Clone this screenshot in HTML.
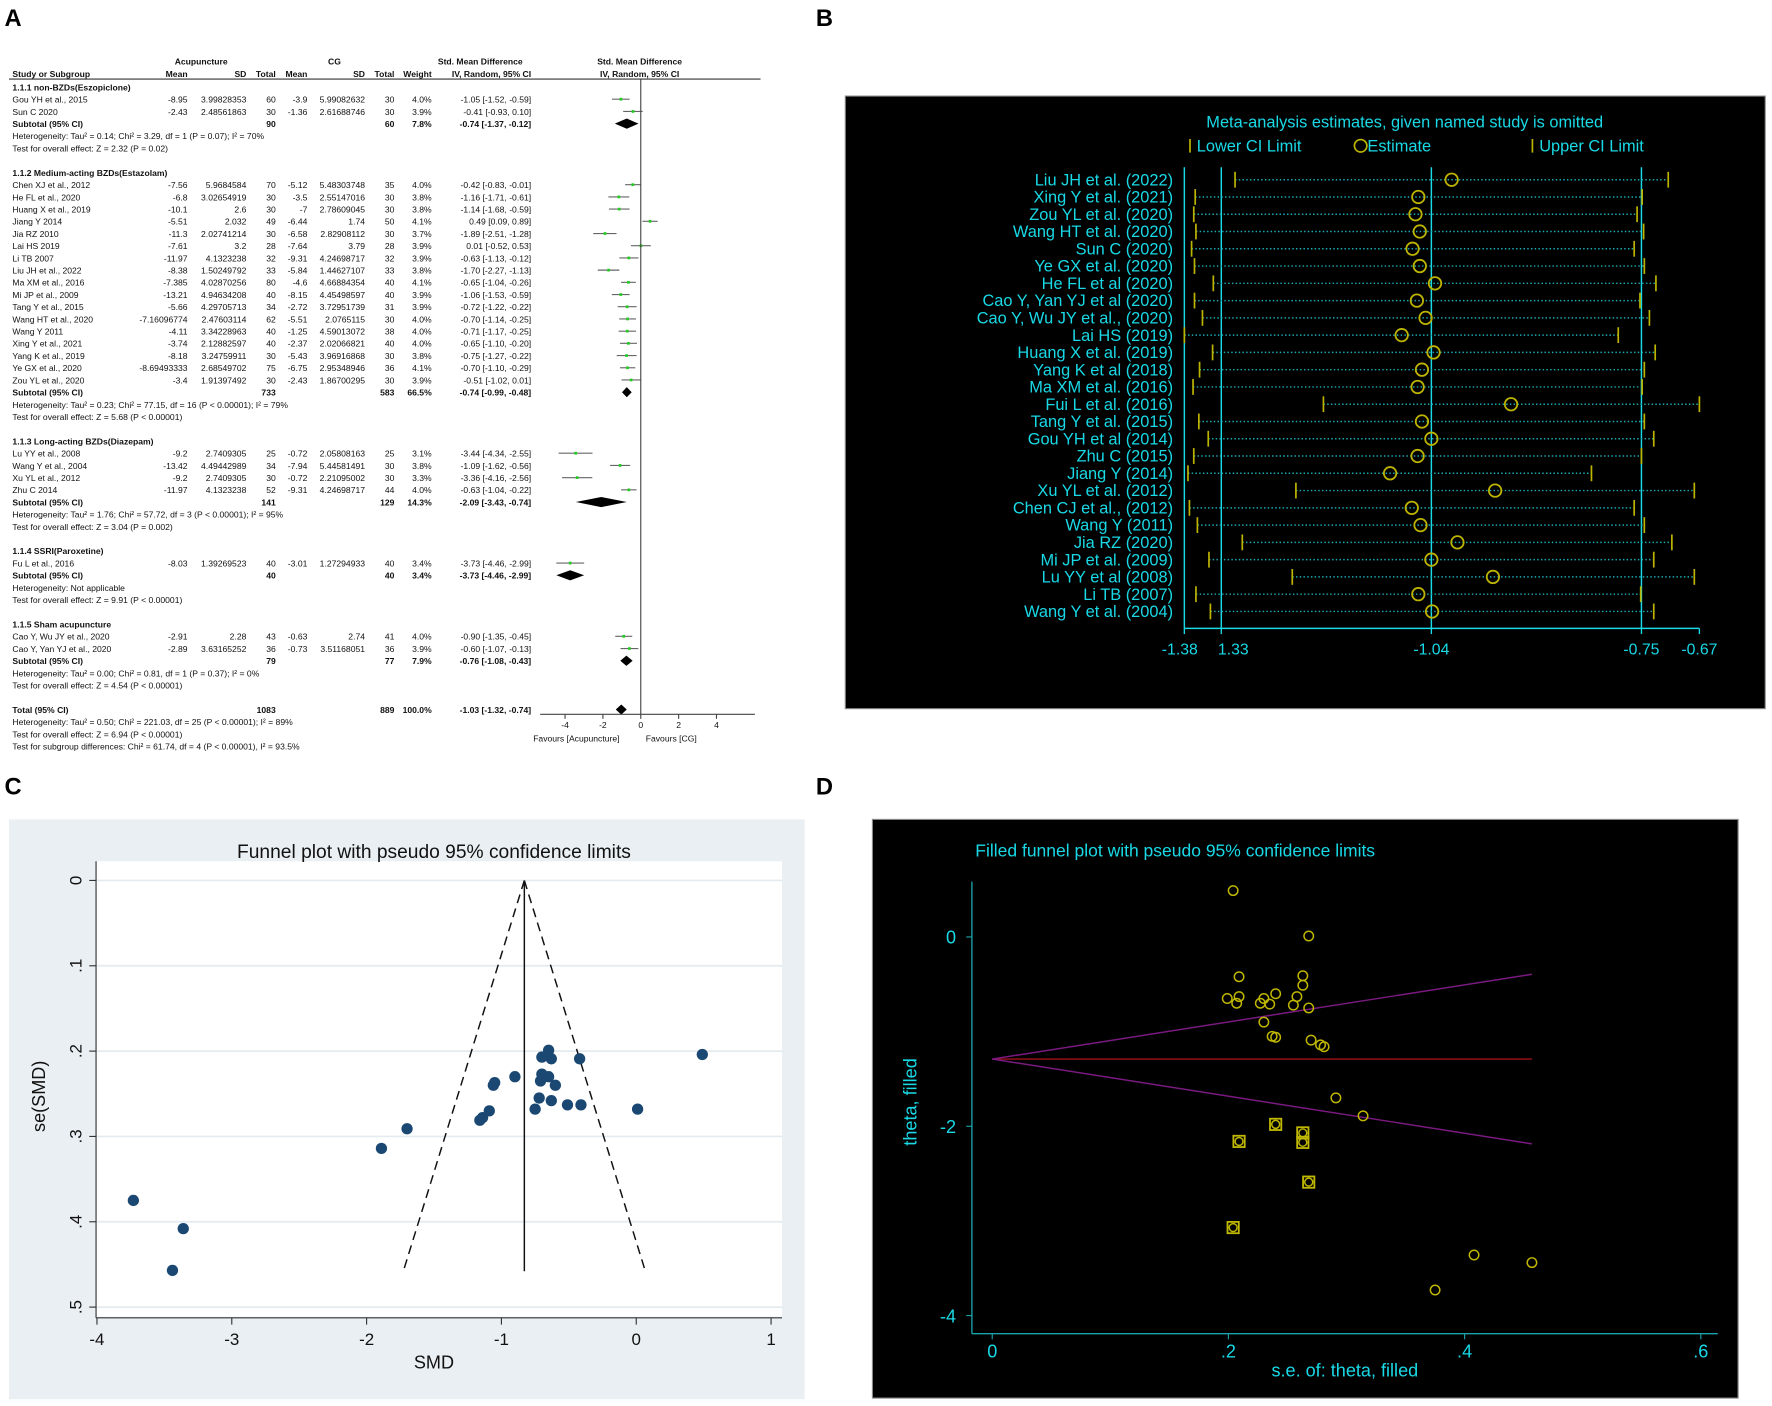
<!DOCTYPE html>
<html><head><meta charset="utf-8">
<style>
html,body{margin:0;padding:0;background:#fff;}
svg{display:block;}
text{font-family:"Liberation Sans",sans-serif;}
</style></head>
<body>
<svg id="fig" width="1772" height="1406" viewBox="0 0 1568 1244" preserveAspectRatio="none" xmlns="http://www.w3.org/2000/svg">
<rect x="0" y="0" width="1568" height="1244" fill="#fff"/>
<text x="4" y="23" font-size="21" font-weight="bold">A</text>
<text x="722" y="23" font-size="21" font-weight="bold">B</text>
<text x="4" y="703" font-size="21" font-weight="bold">C</text>
<text x="722" y="703" font-size="21" font-weight="bold">D</text>
<g id="panelA"></g>
<g id="panelB"></g>
<g id="panelC"></g>
<g id="panelD"></g>
</svg>
<script>
// ---------- Panel A data ----------
const aStudies = ["Gou YH et al., 2015","Sun C 2020","Chen XJ et al., 2012","He FL et al., 2020","Huang X et al., 2019","Jiang Y 2014","Jia RZ 2010","Lai HS 2019","Li TB 2007","Liu JH et al., 2022","Ma XM et al., 2016","Mi JP et al., 2009","Tang Y et al., 2015","Wang HT et al., 2020","Wang Y 2011","Xing Y et al., 2021","Yang K et al., 2019","Ye GX et al., 2020","Zou YL et al., 2020","Lu YY et al., 2008","Wang Y et al., 2004","Xu YL et al., 2012","Zhu C 2014","Fu L et al., 2016","Cao Y, Wu JY et al., 2020","Cao Y, Yan YJ et al., 2020"];
const aAcMean = ["-8.95","-2.43","-7.56","-6.8","-10.1","-5.51","-11.3","-7.61","-11.97","-8.38","-7.385","-13.21","-5.66","-7.16096774","-4.11","-3.74","-8.18","-8.69493333","-3.4","-9.2","-13.42","-9.2","-11.97","-8.03","-2.91","-2.89"];
const aAcSD = ["3.99828353","2.48561863","5.9684584","3.02654919","2.6","2.032","2.02741214","3.2","4.1323238","1.50249792","4.02870256","4.94634208","4.29705713","2.47603114","3.34228963","2.12882597","3.24759911","2.68549702","1.91397492","2.7409305","4.49442989","2.7409305","4.1323238","1.39269523","2.28","3.63165252"];
const aAcN = ["60","30","70","30","30","49","30","28","32","33","80","40","34","62","40","40","30","75","30","25","34","30","52","40","43","36"];
const aCgMean = ["-3.9","-1.36","-5.12","-3.5","-7","-6.44","-6.58","-7.64","-9.31","-5.84","-4.6","-8.15","-2.72","-5.51","-1.25","-2.37","-5.43","-6.75","-2.43","-0.72","-7.94","-0.72","-9.31","-3.01","-0.63","-0.73"];
const aCgSD = ["5.99082632","2.61688746","5.48303748","2.55147016","2.78609045","1.74","2.82908112","3.79","4.24698717","1.44627107","4.66884354","4.45498597","3.72951739","2.0765115","4.59013072","2.02066821","3.96916868","2.95348946","1.86700295","2.05808163","5.44581491","2.21095002","4.24698717","1.27294933","2.74","3.51168051"];
const aCgN = ["30","30","35","30","30","50","30","28","32","33","40","40","31","30","38","40","30","36","30","25","30","30","44","40","41","36"];
const aWeight = ["4.0%","3.9%","4.0%","3.8%","3.8%","4.1%","3.7%","3.9%","3.9%","3.8%","4.1%","3.9%","3.9%","4.0%","4.0%","4.0%","3.8%","4.1%","3.9%","3.1%","3.8%","3.3%","4.0%","3.4%","4.0%","3.9%"];
const aSmd = [-1.05,-0.41,-0.42,-1.16,-1.14,0.49,-1.89,0.01,-0.63,-1.70,-0.65,-1.06,-0.72,-0.70,-0.71,-0.65,-0.75,-0.70,-0.51,-3.44,-1.09,-3.36,-0.63,-3.73,-0.90,-0.60];
const aLo = [-1.52,-0.93,-0.83,-1.71,-1.68,0.09,-2.51,-0.52,-1.13,-2.27,-1.04,-1.53,-1.22,-1.14,-1.17,-1.10,-1.27,-1.10,-1.02,-4.34,-1.62,-4.16,-1.04,-4.46,-1.35,-1.07];
const aHi = [-0.59,0.10,-0.01,-0.61,-0.59,0.89,-1.28,0.53,-0.12,-1.13,-0.26,-0.59,-0.22,-0.25,-0.25,-0.20,-0.22,-0.29,0.01,-2.55,-0.56,-2.56,-0.22,-2.99,-0.45,-0.13];
const aGroupNames = ["1.1.1 non-BZDs(Eszopiclone)","1.1.2 Medium-acting BZDs(Estazolam)","1.1.3 Long-acting BZDs(Diazepam)","1.1.4 SSRI(Paroxetine)","1.1.5 Sham acupuncture"];
const aGroupSizes = [2,17,4,1,2];
const aSubAcN = ["90","733","141","40","79"];
const aSubCgN = ["60","583","129","40","77"];
const aSubW = ["7.8%","66.5%","14.3%","3.4%","7.9%"];
const aSubSmd = [-0.74,-0.74,-2.09,-3.73,-0.76];
const aSubLo = [-1.37,-0.99,-3.43,-4.46,-1.08];
const aSubHi = [-0.12,-0.48,-0.74,-2.99,-0.43];
const aHet = ["Heterogeneity: Tau² = 0.14; Chi² = 3.29, df = 1 (P = 0.07); I² = 70%","Heterogeneity: Tau² = 0.23; Chi² = 77.15, df = 16 (P < 0.00001); I² = 79%","Heterogeneity: Tau² = 1.76; Chi² = 57.72, df = 3 (P < 0.00001); I² = 95%","Heterogeneity: Not applicable","Heterogeneity: Tau² = 0.00; Chi² = 0.81, df = 1 (P = 0.37); I² = 0%"];
const aTest = ["Test for overall effect: Z = 2.32 (P = 0.02)","Test for overall effect: Z = 5.68 (P < 0.00001)","Test for overall effect: Z = 3.04 (P = 0.002)","Test for overall effect: Z = 9.91 (P < 0.00001)","Test for overall effect: Z = 4.54 (P < 0.00001)"];
const aTotal = [-1.03,-1.32,-0.74];
const aTicks = [-4,-2,0,2,4];

// ---------- Panel B data ----------
const bStudies = ["Liu JH et al. (2022)","Xing Y et al. (2021)","Zou YL et al. (2020)","Wang HT et al. (2020)","Sun C (2020)","Ye GX et al. (2020)","He FL et al (2020)","Cao Y, Yan YJ et al (2020)","Cao Y, Wu JY et al., (2020)","Lai HS (2019)","Huang X et al. (2019)","Yang K et al (2018)","Ma XM et al. (2016)","Fui L et al. (2016)","Tang Y et al. (2015)","Gou YH et al (2014)","Zhu C (2015)","Jiang Y (2014)","Xu YL et al. (2012)","Chen CJ et al., (2012)","Wang Y (2011)","Jia RZ (2020)","Mi JP et al. (2009)","Lu YY et al (2008)","Li TB (2007)","Wang Y et al. (2004)"];
const bEst = [-1.012,-1.058,-1.062,-1.056,-1.066,-1.056,-1.035,-1.060,-1.048,-1.081,-1.037,-1.053,-1.059,-0.930,-1.053,-1.040,-1.059,-1.097,-0.952,-1.067,-1.055,-1.004,-1.040,-0.955,-1.058,-1.039];
const bLo = [-1.311,-1.366,-1.368,-1.365,-1.371,-1.367,-1.341,-1.367,-1.356,-1.381,-1.342,-1.360,-1.369,-1.189,-1.361,-1.348,-1.368,-1.376,-1.227,-1.374,-1.363,-1.301,-1.347,-1.232,-1.365,-1.345];
const bHi = [-0.713,-0.749,-0.756,-0.747,-0.760,-0.746,-0.730,-0.752,-0.739,-0.782,-0.731,-0.746,-0.749,-0.670,-0.746,-0.733,-0.750,-0.819,-0.677,-0.760,-0.746,-0.708,-0.733,-0.677,-0.751,-0.733];
const bTickVals = [-1.381,-1.33,-1.04,-0.75,-0.67];
const bTickLabels = ["-1.38","1.33","-1.04","-0.75","-0.67"];

// ---------- Panel C data ----------
const cSmd = [-1.05,-0.41,-0.42,-1.16,-1.14,0.49,-1.89,0.01,-0.63,-1.70,-0.65,-1.06,-0.72,-0.70,-0.71,-0.65,-0.75,-0.70,-0.51,-3.44,-1.09,-3.36,-0.63,-3.73,-0.90,-0.60];
const cSe = [0.237,0.263,0.209,0.281,0.278,0.204,0.314,0.268,0.258,0.291,0.199,0.240,0.255,0.227,0.235,0.230,0.268,0.207,0.263,0.457,0.270,0.408,0.209,0.375,0.230,0.240];
const cXTicks = [-4,-3,-2,-1,0,1];
const cYTicks = [0,0.1,0.2,0.3,0.4,0.5];
const cYLabels = ["0",".1",".2",".3",".4",".5"];
const cCenter = -0.83;
const cMaxSe = 0.458;

// ---------- Panel D data ----------
const dFilledSe = [0.204,0.268,0.209,0.263,0.263,0.240];
const dFilledTheta = [-3.07,-2.59,-2.16,-2.17,-2.07,-1.98];
const dCenter = -1.29;
const dMaxSe = 0.457;
const dXTicks = [0,0.2,0.4,0.6];
const dXLabels = ["0",".2",".4",".6"];
const dYTicks = [0,-2,-4];

const NS = "http://www.w3.org/2000/svg";
function mk(parent, tag, attrs, txt){
  const e = document.createElementNS(NS, tag);
  for (const k in attrs) e.setAttribute(k, attrs[k]);
  if (txt !== undefined) e.textContent = txt;
  parent.appendChild(e);
  return e;
}

// ================= Panel A =================
(function(){
  const g = document.getElementById('panelA');
  const fx = v => 567 + v * 16.75;
  const fs = 7.6;
  const t = (x, y, s, anchor, bold, name) => {
    const e = mk(g, 'text', {x:x, y:y, 'font-size':fs, 'text-anchor':anchor||'start', 'font-weight':bold?'bold':'normal', fill:'#111'}, s);
    
    
    return e;
  };
  t(178,57,"Acupuncture","middle",true,"header-acupuncture");
  t(296,57,"CG","middle",true,"header-cg");
  t(425,57,"Std. Mean Difference","middle",true,"header-smd");
  t(566,57,"Std. Mean Difference","middle",true,"header-smd-plot");
  t(11,68,"Study or Subgroup","start",true,"header-study");
  t(166,68,"Mean","end",true,"header-mean"); t(218,68,"SD","end",true,"header-sd"); t(244,68,"Total","end",true,"header-total");
  t(272,68,"Mean","end",true,"header-mean"); t(323,68,"SD","end",true,"header-sd"); t(349,68,"Total","end",true,"header-total");
  t(382,68,"Weight","end",true,"header-weight"); t(470,68,"IV, Random, 95% CI","end",true,"header-ci");
  t(566,68,"IV, Random, 95% CI","middle",true,"header-ci-plot");
  const hl = mk(g,'line',{x1:8,y1:70,x2:673,y2:70,stroke:'#333','stroke-width':1});
   

  const rowY = i => 77 + i * 10.8;
  const ci = (s,l,h) => s.toFixed(2) + " [" + l.toFixed(2) + ", " + h.toFixed(2) + "]";
  let line = 0, k = 0;
  for (let gi = 0; gi < aGroupNames.length; gi++) {
    t(11, rowY(line)+3, aGroupNames[gi], "start", true, "subgroup-title"); line++;
    for (let j = 0; j < aGroupSizes[gi]; j++, k++) {
      const y = rowY(line) + 3;
      t(11,y,aStudies[k],"start",false,"study-name");
      t(166,y,aAcMean[k],"end"); t(218,y,aAcSD[k],"end"); t(244,y,aAcN[k],"end");
      t(272,y,aCgMean[k],"end"); t(323,y,aCgSD[k],"end"); t(349,y,aCgN[k],"end");
      t(382,y,aWeight[k],"end"); t(470,y,ci(aSmd[k],aLo[k],aHi[k]),"end",false,"study-ci");
      const yy = rowY(line);
      const l = mk(g,'line',{x1:fx(aLo[k]),y1:yy,x2:fx(aHi[k]),y2:yy,stroke:'#666','stroke-width':1});
       
      const sq = mk(g,'rect',{x:fx(aSmd[k])-1.2,y:yy-1.2,width:2.4,height:2.4,fill:'#22cc22'});
       
      line++;
    }
    const y = rowY(line) + 3;
    t(11,y,"Subtotal (95% CI)","start",true,"subtotal-label");
    t(244,y,aSubAcN[gi],"end",true); t(349,y,aSubCgN[gi],"end",true); t(382,y,aSubW[gi],"end",true);
    t(470,y,ci(aSubSmd[gi],aSubLo[gi],aSubHi[gi]),"end",true,"subtotal-ci");
    const yy = rowY(line);
    const d = mk(g,'polygon',{points:`${fx(aSubLo[gi])},${yy} ${fx(aSubSmd[gi])},${yy-4.5} ${fx(aSubHi[gi])},${yy} ${fx(aSubSmd[gi])},${yy+4.5}`,fill:'#000'});
     
    line++;
    t(11,rowY(line)+3,aHet[gi],"start",false,"heterogeneity-text"); line++;
    t(11,rowY(line)+3,aTest[gi],"start",false,"overall-effect-text"); line++;
    line++;
  }
  let y = rowY(line) + 3;
  t(11,y,"Total (95% CI)","start",true,"total-label");
  t(244,y,"1083","end",true); t(349,y,"889","end",true); t(382,y,"100.0%","end",true);
  t(470,y,ci(aTotal[0],aTotal[1],aTotal[2]),"end",true,"total-ci");
  const yy = rowY(line);
  const d = mk(g,'polygon',{points:`${fx(aTotal[1])},${yy} ${fx(aTotal[0])},${yy-4.5} ${fx(aTotal[2])},${yy} ${fx(aTotal[0])},${yy+4.5}`,fill:'#000'});
   
  line++;
  t(11,rowY(line)+3,"Heterogeneity: Tau² = 0.50; Chi² = 221.03, df = 25 (P < 0.00001); I² = 89%","start",false,"total-heterogeneity"); line++;
  t(11,rowY(line)+3,"Test for overall effect: Z = 6.94 (P < 0.00001)","start",false,"total-overall-effect"); line++;
  t(11,rowY(line)+3,"Test for subgroup differences: Chi² = 61.74, df = 4 (P < 0.00001), I² = 93.5%","start",false,"subgroup-differences");

  const vz = mk(g,'line',{x1:fx(0),y1:70,x2:fx(0),y2:632,stroke:'#444','stroke-width':1});
   
  const ax = mk(g,'line',{x1:478,y1:632,x2:668,y2:632,stroke:'#444','stroke-width':1});
   
  aTicks.forEach(v => {
    const tk = mk(g,'line',{x1:fx(v),y1:632,x2:fx(v),y2:636,stroke:'#444'});
     
    t(fx(v),644,String(v),"middle",false,"x-tick-label");
  });
  t(510,656,"Favours [Acupuncture]","middle",false,"favours-acupuncture");
  t(594,656,"Favours [CG]","middle",false,"favours-cg");
})();

// ================= Panel B =================
(function(){
  const g = document.getElementById('panelB');
  const CY = '#19d9e6', YL = '#bdb400';
  const bg = mk(g,'rect',{x:748,y:85,width:814,height:542,fill:'#000',stroke:'#888','stroke-width':1});
   
  const fx = v => 1048 + (v + 1.381) * 641;
  const rowY = i => 159 + i * 15.28;
  const tt = mk(g,'text',{x:1243,y:113,'font-size':14.5,fill:CY,'text-anchor':'middle'},"Meta-analysis estimates, given named study is omitted");
   
  let e = mk(g,'line',{x1:1053,y1:123,x2:1053,y2:135,stroke:YL,'stroke-width':1.5});  
  e = mk(g,'text',{x:1059,y:134,'font-size':14.5,fill:CY},"Lower CI Limit");  
  e = mk(g,'circle',{cx:1204,cy:129,r:5.5,fill:'none',stroke:YL,'stroke-width':1.5});  
  e = mk(g,'text',{x:1210,y:134,'font-size':14.5,fill:CY},"Estimate");  
  e = mk(g,'line',{x1:1356,y1:123,x2:1356,y2:135,stroke:YL,'stroke-width':1.5});  
  e = mk(g,'text',{x:1362,y:134,'font-size':14.5,fill:CY},"Upper CI Limit");  
  [bTickVals[1], bTickVals[2], bTickVals[3]].forEach(v => {
    const l = mk(g,'line',{x1:fx(v),y1:148,x2:fx(v),y2:556,stroke:CY,'stroke-width':1.3});
     
  });
  e = mk(g,'line',{x1:fx(bTickVals[0]),y1:148,x2:fx(bTickVals[0]),y2:556,stroke:CY,'stroke-width':1.3});  
  e = mk(g,'line',{x1:fx(bTickVals[0]),y1:556,x2:fx(bTickVals[4]),y2:556,stroke:CY,'stroke-width':1.3});  
  bTickVals.forEach((v,i) => {
    const tk = mk(g,'line',{x1:fx(v),y1:556,x2:fx(v),y2:561,stroke:CY,'stroke-width':1.2});
     
    const lb = mk(g,'text',{x:fx(v)+(i===0?-4:(i===1?-3:0)),y:579,'font-size':14,fill:CY,'text-anchor':i===1?'start':'middle'},bTickLabels[i]);
     
  });
  bStudies.forEach((s,i) => {
    const y = rowY(i);
    const lb = mk(g,'text',{x:1038,y:y+5,'font-size':14.5,fill:CY,'text-anchor':'end'},s);
     
    const l = mk(g,'line',{x1:fx(bLo[i]),y1:y,x2:fx(bHi[i]),y2:y,stroke:'#1ba9b4','stroke-width':1.3,'stroke-dasharray':'1.3 2'});
     
    const c1 = mk(g,'line',{x1:fx(bLo[i]),y1:y-7,x2:fx(bLo[i]),y2:y+7,stroke:YL,'stroke-width':1.5});
     
    const c2 = mk(g,'line',{x1:fx(bHi[i]),y1:y-7,x2:fx(bHi[i]),y2:y+7,stroke:YL,'stroke-width':1.5});
     
    const c = mk(g,'circle',{cx:fx(bEst[i]),cy:y,r:5.5,fill:'none',stroke:YL,'stroke-width':1.6});
     
  });
})();

// ================= Panel C =================
(function(){
  const g = document.getElementById('panelC');
  const fx = v => 563 + v * 119.3;
  const fy = v => 779 + v * 755;
  let e = mk(g,'rect',{x:8,y:725,width:704,height:513,fill:'#e9eff2'});  
  e = mk(g,'rect',{x:85,y:762,width:607,height:403,fill:'#fff'});  
  e = mk(g,'text',{x:384,y:759,'font-size':17,fill:'#111','text-anchor':'middle'},"Funnel plot with pseudo 95% confidence limits");  
  cYTicks.forEach((v,i) => {
    const gl = mk(g,'line',{x1:85,y1:fy(v),x2:692,y2:fy(v),stroke:'#e3ebef','stroke-width':1.5});
     
    const tk = mk(g,'line',{x1:79,y1:fy(v),x2:85,y2:fy(v),stroke:'#333'});
     
    const lb = mk(g,'text',{x:0,y:0,'font-size':15,fill:'#111','text-anchor':'middle',transform:`translate(72,${fy(v)}) rotate(-90)`},cYLabels[i]);
     
  });
  e = mk(g,'line',{x1:85,y1:762,x2:85,y2:1166,stroke:'#333'});  
  e = mk(g,'line',{x1:85,y1:1166,x2:692,y2:1166,stroke:'#333'});  
  cXTicks.forEach(v => {
    const tk = mk(g,'line',{x1:fx(v),y1:1166,x2:fx(v),y2:1172,stroke:'#333'});
     
    const lb = mk(g,'text',{x:fx(v),y:1190,'font-size':15,fill:'#111','text-anchor':'middle'},String(v));
     
  });
  e = mk(g,'text',{x:384,y:1211,'font-size':16,fill:'#111','text-anchor':'middle'},"SMD");  
  e = mk(g,'text',{x:0,y:0,'font-size':16,fill:'#111','text-anchor':'middle',transform:'translate(40,970) rotate(-90)'},"se(SMD)");  
  e = mk(g,'line',{x1:fx(cCenter),y1:fy(0),x2:fx(cCenter),y2:fy(cMaxSe),stroke:'#111','stroke-width':1.3});  
  e = mk(g,'line',{x1:fx(cCenter),y1:fy(0),x2:fx(cCenter-1.96*cMaxSe),y2:fy(cMaxSe),stroke:'#111','stroke-width':1.3,'stroke-dasharray':'8 5'});  
  e = mk(g,'line',{x1:fx(cCenter),y1:fy(0),x2:fx(cCenter+1.96*cMaxSe),y2:fy(cMaxSe),stroke:'#111','stroke-width':1.3,'stroke-dasharray':'8 5'});  
  cSmd.forEach((v,i) => {
    const c = mk(g,'circle',{cx:fx(v),cy:fy(cSe[i]),r:5,fill:'#1b4872'});
     
  });
})();

// ================= Panel D =================
(function(){
  const g = document.getElementById('panelD');
  const CY = '#19d9e6', AX = '#1aa3ad', YL = '#c0b800';
  const fx = v => 878 + v * 1045;
  const fy = v => 829 - v * 83.75;
  let e = mk(g,'rect',{x:772,y:725,width:766,height:512,fill:'#000',stroke:'#888'});  
  e = mk(g,'text',{x:863,y:758,'font-size':15.5,fill:CY},"Filled funnel plot with pseudo 95% confidence limits");  
  e = mk(g,'line',{x1:860,y1:780,x2:860,y2:1180,stroke:AX,'stroke-width':1.2});  
  e = mk(g,'line',{x1:860,y1:1180,x2:1520,y2:1180,stroke:AX,'stroke-width':1.2});  
  dYTicks.forEach(v => {
    const tk = mk(g,'line',{x1:855,y1:fy(v),x2:860,y2:fy(v),stroke:AX});
     
    const lb = mk(g,'text',{x:846,y:fy(v)+6,'font-size':16,fill:CY,'text-anchor':'end'},String(v));
     
  });
  dXTicks.forEach((v,i) => {
    const tk = mk(g,'line',{x1:fx(v),y1:1180,x2:fx(v),y2:1185,stroke:AX});
     
    const lb = mk(g,'text',{x:fx(v),y:1201,'font-size':16,fill:CY,'text-anchor':'middle'},dXLabels[i]);
     
  });
  e = mk(g,'text',{x:1190,y:1218,'font-size':16,fill:CY,'text-anchor':'middle'},"s.e. of: theta, filled");  
  e = mk(g,'text',{x:0,y:0,'font-size':16,fill:CY,'text-anchor':'middle',transform:'translate(811,975) rotate(-90)'},"theta, filled");  
  e = mk(g,'line',{x1:fx(0),y1:fy(dCenter),x2:fx(dMaxSe),y2:fy(dCenter),stroke:'#a0101a','stroke-width':1.3});  
  e = mk(g,'line',{x1:fx(0),y1:fy(dCenter),x2:fx(dMaxSe),y2:fy(dCenter+1.96*dMaxSe),stroke:'#7a1a80','stroke-width':1.3});  
  e = mk(g,'line',{x1:fx(0),y1:fy(dCenter),x2:fx(dMaxSe),y2:fy(dCenter-1.96*dMaxSe),stroke:'#7a1a80','stroke-width':1.3});  
  cSmd.forEach((v,i) => {
    const c = mk(g,'circle',{cx:fx(cSe[i]),cy:fy(v),r:4.2,fill:'none',stroke:YL,'stroke-width':1.3});
     
  });
  dFilledSe.forEach((s,i) => {
    const r = mk(g,'rect',{x:fx(s)-5,y:fy(dFilledTheta[i])-5,width:10,height:10,fill:'none',stroke:YL,'stroke-width':1.6});
     
    const c = mk(g,'circle',{cx:fx(s),cy:fy(dFilledTheta[i]),r:3.5,fill:'none',stroke:YL,'stroke-width':1.3});
     
  });
})();
</script>
</body></html>
